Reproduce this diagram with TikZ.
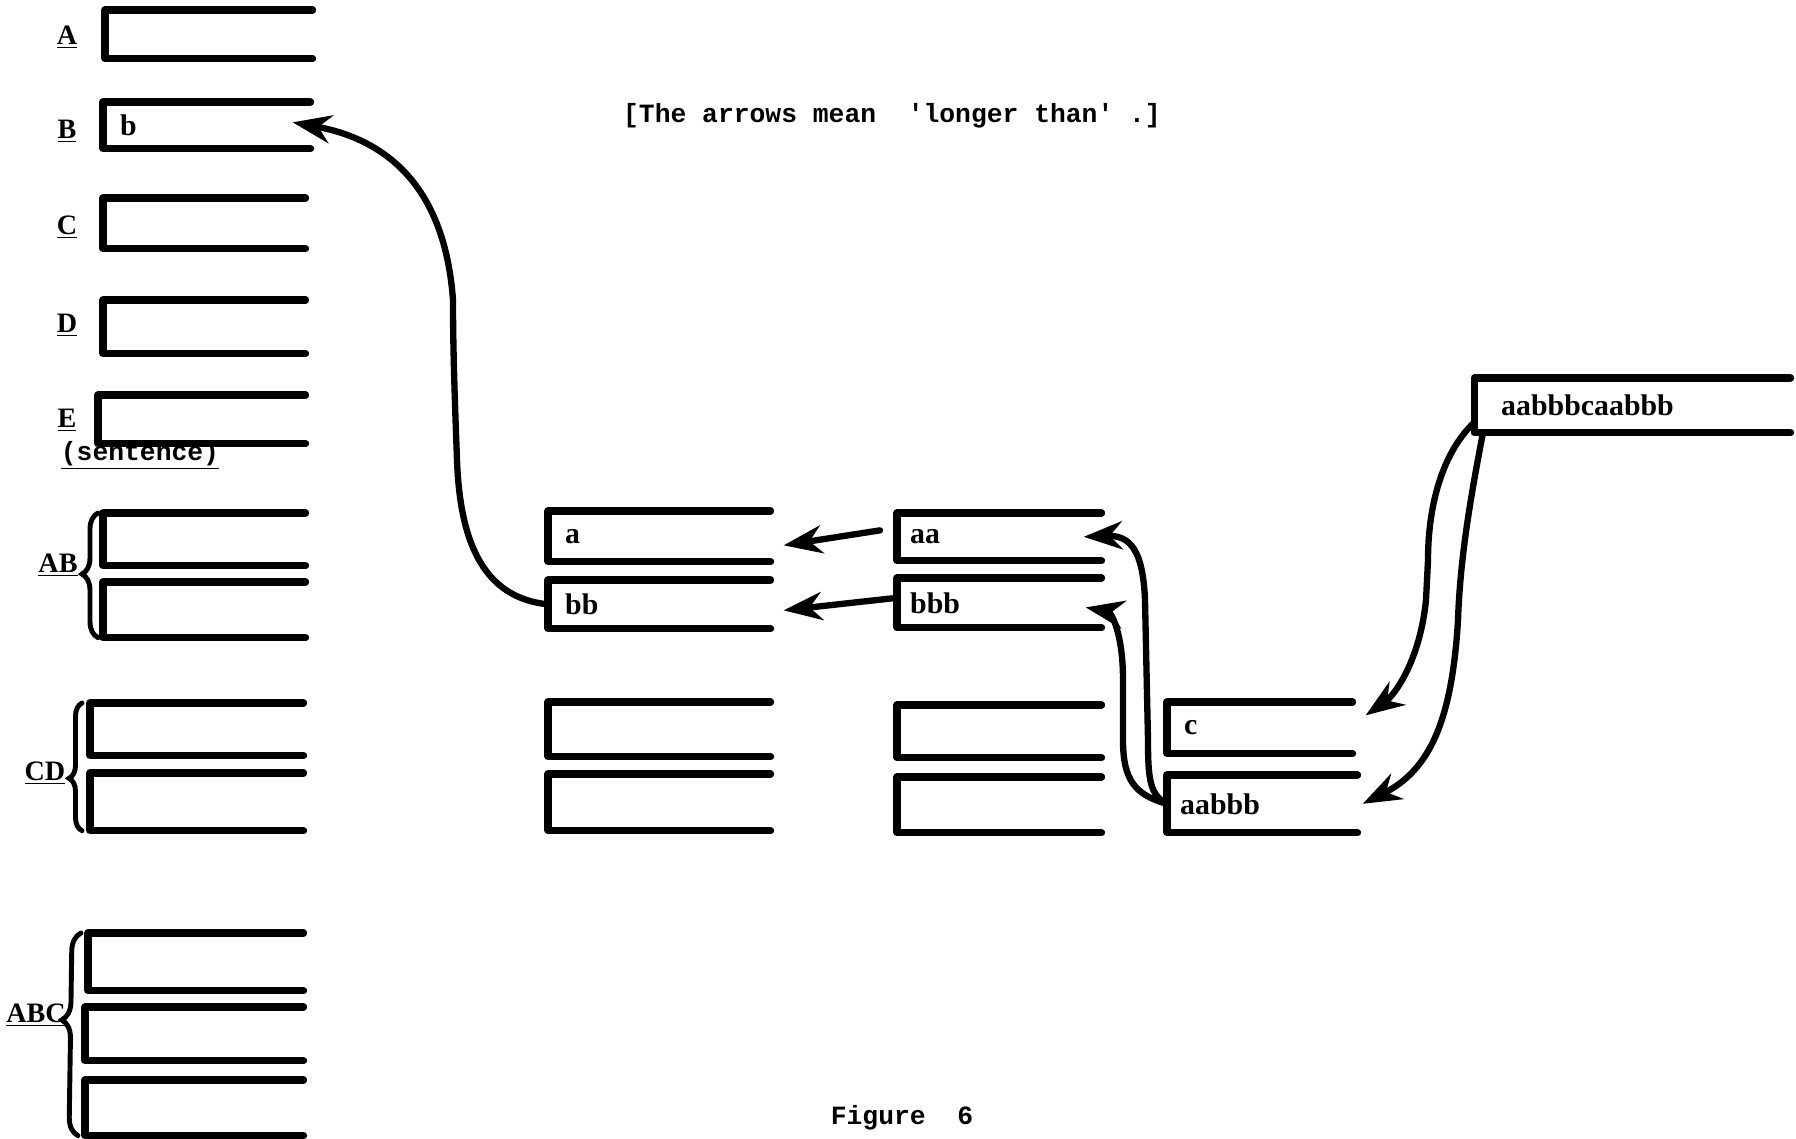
\documentclass[tikz,border=0pt]{standalone}
\usepackage{fontspec}
\setmainfont{Liberation Serif}
\setmonofont{Liberation Mono}
\usetikzlibrary{arrows.meta,decorations.pathreplacing}

\tikzset{
  slot/.style 2 args={minimum width=#1, minimum height=#2, anchor=north west, inner sep=0pt},
  rim/.style={line width=4pt, line cap=round, line join=round},
  word/.style={anchor=west, xshift=0.22cm, font=\fontsize{17}{20}\selectfont\bfseries},
  tag/.style={font=\fontsize{16}{18}\selectfont\bfseries},
  curly/.style 2 args={decorate, line width=2.8pt, line cap=round, decoration={brace, amplitude=#1, aspect=#2}},
  arr/.style={line width=3.6pt, line cap=round, -{Stealth[length=22pt, width=16pt]}},
  typed/.style={font=\fontsize{15}{18}\selectfont\ttfamily\bfseries},
}

\begin{document}
\begin{tikzpicture}[x=0.02cm, y=-0.02cm]
\useasboundingbox (0,0) rectangle (1796,1139);
% left column of registers
\node[slot={4.14cm}{0.96cm}] (bA) at (105,10) {};
\node[slot={4.14cm}{0.92cm}, label={[word]west:b}] (bB) at (103,102) {};
\node[slot={4.04cm}{1.0cm}] (bC) at (103,198) {};
\node[slot={4.04cm}{1.06cm}] (bD) at (103,300) {};
\node[slot={4.14cm}{0.96cm}] (bE) at (98,395) {};
\node[slot={4.04cm}{1.04cm}] (bAB1) at (103,513) {};
\node[slot={4.04cm}{1.1cm}] (bAB2) at (103,582) {};
\node[slot={4.26cm}{1.04cm}] (bCD1) at (90,703) {};
\node[slot={4.26cm}{1.14cm}] (bCD2) at (90,773) {};
\node[slot={4.3cm}{1.14cm}] (bABC1) at (88,933) {};
\node[slot={4.36cm}{1.06cm}] (bABC2) at (85,1007) {};
\node[slot={4.36cm}{1.1cm}] (bABC3) at (85,1080) {};
\node[tag] (lA) at (67,37) {\underline{A}};
\node[tag] (lB) at (67,131) {\underline{B}};
\node[tag] (lC) at (67,227) {\underline{C}};
\node[tag] (lD) at (67,325) {\underline{D}};
\node[tag] (lE) at (67,420) {\underline{E}};
\node[font=\fontsize{15}{17}\selectfont\ttfamily\bfseries] (lS) at (140,455) {\underline{(sentence)}};
\node[tag] (lAB) at (58,565) {\underline{AB}};
\node[tag] (lCD) at (45,773) {\underline{CD}};
\node[tag] (lABC) at (36,1015) {\underline{ABC}};
\draw[curly={0.32cm}{0.51}] ([xshift=-0.1cm]bAB2.south west) -- ([xshift=-0.1cm]bAB1.north west);
\draw[curly={0.26cm}{0.41}] ([xshift=-0.16cm]bCD2.south west) -- ([xshift=-0.16cm]bCD1.north west);
\draw[curly={0.36cm}{0.57}] ([xshift=-0.14cm]bABC3.south west) -- ([xshift=-0.14cm]bABC1.north west);
% second and third columns
\node[slot={4.44cm}{1.0cm}, label={[word]west:a}] (a) at (548,511) {};
\node[slot={4.44cm}{0.96cm}, label={[word]west:bb}] (bb) at (548,580) {};
\node[slot={4.44cm}{1.08cm}] (e21) at (548,702) {};
\node[slot={4.44cm}{1.12cm}] (e22) at (548,774) {};
\node[slot={4.08cm}{0.94cm}, label={[word, xshift=-0.08cm]west:aa}] (aa) at (897,513) {};
\node[slot={4.08cm}{0.98cm}, label={[word, xshift=-0.08cm]west:bbb}] (bbb) at (897,578) {};
\node[slot={4.08cm}{1.04cm}] (e31) at (897,705) {};
\node[slot={4.08cm}{1.1cm}] (e32) at (897,777) {};
\node[slot={3.7cm}{1.02cm}, label={[word]west:c}] (c) at (1167,702) {};
\node[slot={3.8cm}{1.14cm}, label={[word, xshift=-0.08cm]west:aabbb}] (aabbb) at (1167,775) {};
\node[slot={6.32cm}{1.08cm}, label={[word, xshift=0.2cm]west:aabbbcaabbb}] (whole) at (1474,378) {};
\foreach \n in {bA,bB,bC,bD,bE,bAB1,bAB2,bCD1,bCD2,bABC1,bABC2,bABC3,a,bb,e21,e22,aa,bbb,e31,e32,c,aabbb,whole}
  \draw[rim] (\n.north east) -- (\n.north west) -- (\n.south west) -- (\n.south east);
% the arrows
\draw[arr] (bb.west) .. controls (485,598) and (460,545) .. (457,460)
  .. controls (454,380) and (453,340) .. (453,300)
  .. controls (445,190) and (390,140) .. ([xshift=-0.36cm,yshift=0.06cm]bB.east);
\draw[arr] ([xshift=-0.34cm,yshift=0.13cm]aa.west) -- ([xshift=0.26cm,yshift=-0.18cm]a.east);
\draw[arr] ([xshift=-0.1cm,yshift=0.09cm]bbb.west) -- ([xshift=0.26cm,yshift=-0.12cm]bb.east);
\draw[arr] (aabbb.west) .. controls (1150,795) and (1148,780) .. (1148,740) -- (1145,600)
  .. controls (1143,550) and (1130,535) .. ([xshift=-0.36cm]aa.east);
\draw[arr] (aabbb.west) .. controls (1135,795) and (1123,780) .. (1123,740) -- (1123,680)
  .. controls (1123,630) and (1110,612) .. ([xshift=-0.32cm,yshift=-0.09cm]bbb.east);
\draw[arr] ([yshift=0.2cm]whole.south west) .. controls (1445,450) and (1428,500) .. (1428,560) -- (1426,600)
  .. controls (1420,660) and (1395,695) .. ([xshift=0.26cm,yshift=0.25cm]c.east);
\draw[arr] ([xshift=0.18cm]whole.south west) .. controls (1470,500) and (1460,560) .. (1458,620)
  .. controls (1452,720) and (1430,770) .. ([xshift=0.1cm]aabbb.east);
% texts
\node[typed] (title) at (892,116) {[The arrows mean\ \ 'longer than'\ .]};
\node[typed] (caption) at (902,1118) {Figure\ \ 6};
\end{tikzpicture}
\end{document}
